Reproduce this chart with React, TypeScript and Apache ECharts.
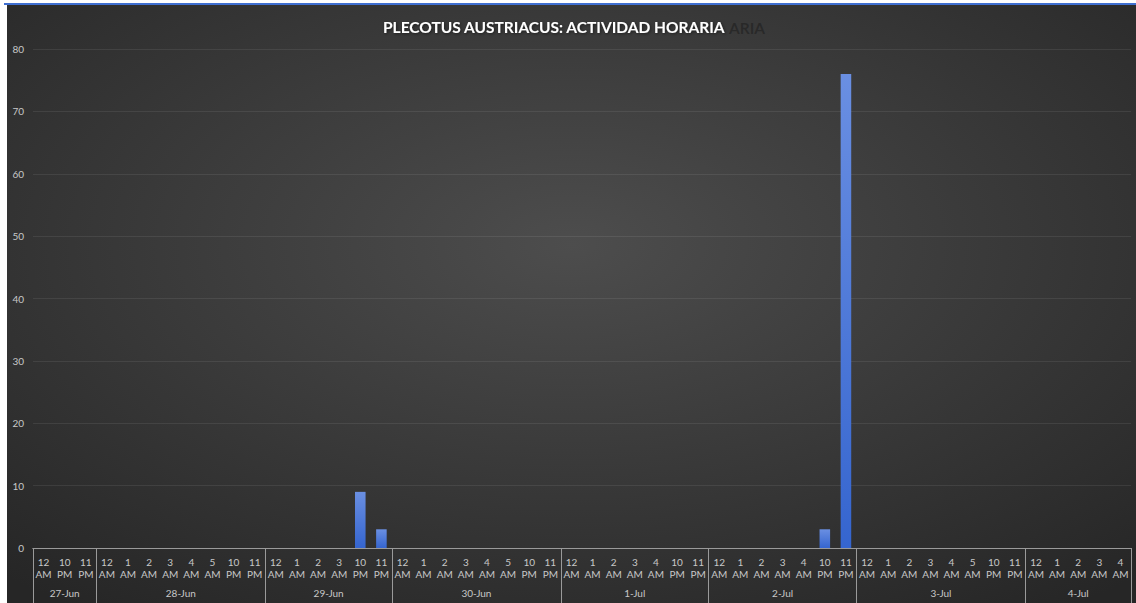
import React, { useEffect, useRef } from "react";
import * as echarts from "echarts";

const hourLabels: string[] = [
  "12 AM", "10 PM", "11 PM",
  "12 AM", "1 AM", "2 AM", "3 AM", "4 AM", "5 AM", "10 PM", "11 PM",
  "12 AM", "1 AM", "2 AM", "3 AM", "10 PM", "11 PM",
  "12 AM", "1 AM", "2 AM", "3 AM", "4 AM", "5 AM", "10 PM", "11 PM",
  "12 AM", "1 AM", "2 AM", "3 AM", "4 AM", "10 PM", "11 PM",
  "12 AM", "1 AM", "2 AM", "3 AM", "4 AM", "10 PM", "11 PM",
  "12 AM", "1 AM", "2 AM", "3 AM", "4 AM", "5 AM", "10 PM", "11 PM",
  "12 AM", "1 AM", "2 AM", "3 AM", "4 AM",
];

const dateLabels: string[] = ["27-Jun", "28-Jun", "29-Jun", "30-Jun", "1-Jul", "2-Jul", "3-Jul", "4-Jul"];
const dateGroupSizes: number[] = [3, 8, 6, 8, 7, 7, 8, 5];

const counts: number[] = [
  0, 0, 0,
  0, 0, 0, 0, 0, 0, 0, 0,
  0, 0, 0, 0, 9, 3,
  0, 0, 0, 0, 0, 0, 0, 0,
  0, 0, 0, 0, 0, 0, 0,
  0, 0, 0, 0, 0, 3, 76,
  0, 0, 0, 0, 0, 0, 0, 0,
  0, 0, 0, 0, 0,
];

const yTicks: number[] = [0, 10, 20, 30, 40, 50, 60, 70, 80];

const titleText = "PLECOTUS AUSTRIACUS: ACTIVIDAD HORARIA";
const titleGhostTail = "ARIA";

export default function App() {
  const ref = useRef<HTMLDivElement>(null);

  useEffect(() => {
    if (!ref.current) return;
    const chart = echarts.init(ref.current, undefined, { renderer: "svg" });

    const boundaries: number[] = [0];
    const centers: number[] = [];
    let acc = 0;
    dateGroupSizes.forEach((n) => {
      centers.push(acc + n / 2);
      acc += n;
      boundaries.push(acc);
    });
    const centerName = (v: number) => {
      const i = centers.findIndex((c) => Math.abs(c - v) < 1e-6);
      return i >= 0 ? dateLabels[i] : "";
    };

    const axisGray = "#9a9a9a";
    const labelGray = "#c8c8c8";
    const font = "Lato, 'Open Sans', sans-serif";

    chart.setOption({
      animation: false,
      backgroundColor: "#ffffff",
      graphic: [
        {
          type: "rect",
          z: -10,
          silent: true,
          shape: { x: 7, y: 5, width: 1129, height: 598 },
          style: {
            fill: new echarts.graphic.RadialGradient(0.5, 0.4, 0.75, [
              { offset: 0, color: "#4d4d4d" },
              { offset: 1, color: "#262626" },
            ]),
          },
        },
        {
          type: "rect",
          z: 10,
          silent: true,
          shape: { x: 4, y: 3, width: 1132, height: 2 },
          style: { fill: "#3f6fd1" },
        },
        {
          type: "text",
          z: 5,
          left: 729,
          top: 20,
          silent: true,
          style: {
            text: titleGhostTail,
            fill: "rgba(25,25,25,0.5)",
            font: "bold 15.5px " + font,
          },
        },
        {
          type: "text",
          z: 6,
          left: 383,
          top: 19,
          silent: true,
          style: {
            text: titleText,
            fill: "#ffffff",
            font: "bold 15.5px " + font,
            textShadowColor: "rgba(0,0,0,0.5)",
            textShadowBlur: 3,
            textShadowOffsetX: 1,
            textShadowOffsetY: 1,
          },
        },
      ],
      grid: { left: 33, right: 5, top: 49, bottom: 55, containLabel: false },
      xAxis: [
        {
          type: "category",
          data: hourLabels,
          axisLine: { show: true, lineStyle: { color: axisGray, width: 1 } },
          axisTick: { show: false },
          axisLabel: {
            interval: 0,
            color: labelGray,
            fontFamily: font,
            fontSize: 10,
            lineHeight: 12,
            margin: 8,
            formatter: (v: string) => v.replace(" ", "\n"),
          },
          splitLine: { show: false },
        },
        {
          type: "value",
          position: "bottom",
          min: 0,
          max: acc,
          axisLine: { show: true, lineStyle: { color: axisGray, width: 1 } },
          axisTick: {
            show: true,
            customValues: boundaries,
            length: 56,
            lineStyle: { color: axisGray, width: 1 },
          },
          axisLabel: {
            customValues: centers,
            color: labelGray,
            fontFamily: font,
            fontSize: 10,
            margin: 40,
            formatter: (v: number) => centerName(v),
          },
          splitLine: { show: false },
        },
      ],
      yAxis: {
        type: "value",
        min: yTicks[0],
        max: yTicks[yTicks.length - 1],
        interval: yTicks[1] - yTicks[0],
        axisLine: { show: false },
        axisTick: { show: false },
        axisLabel: {
          color: labelGray,
          fontFamily: font,
          fontSize: 10,
          margin: 9,
        },
        splitLine: { lineStyle: { color: "rgba(255,255,255,0.08)", width: 1 } },
      },
      series: [
        {
          type: "bar",
          xAxisIndex: 0,
          data: counts,
          barWidth: "50%",
          itemStyle: {
            color: new echarts.graphic.LinearGradient(0, 0, 0, 1, [
              { offset: 0, color: "#6a8fe2" },
              { offset: 1, color: "#3565cf" },
            ]),
          },
        },
      ],
    });

    return () => chart.dispose();
  }, []);

  return (
    <div
      ref={ref}
      style={{ position: "fixed", left: 0, top: 0, width: 1136, height: 603 }}
    />
  );
}
